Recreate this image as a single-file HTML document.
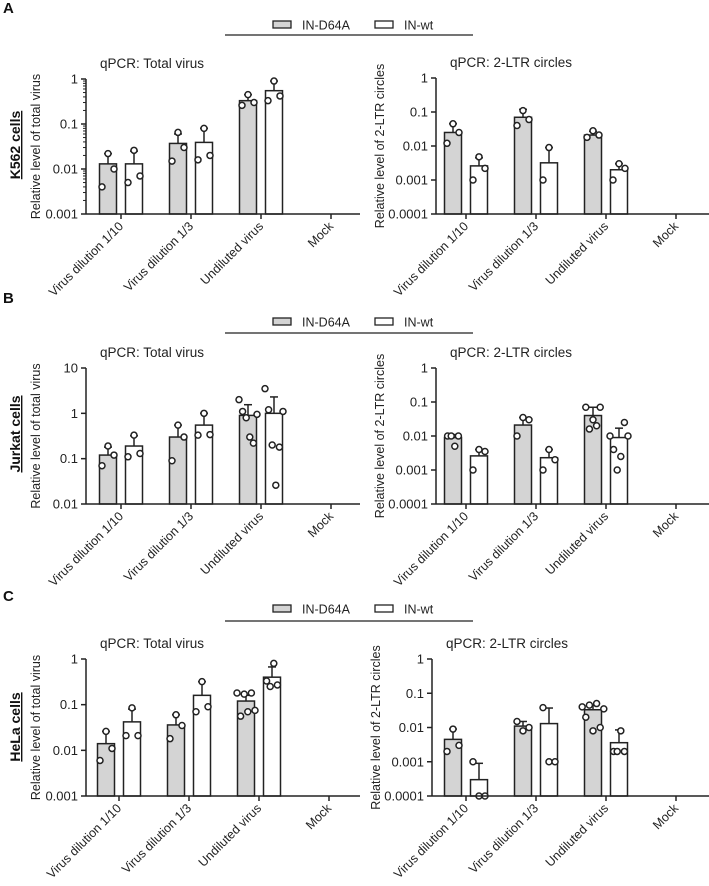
<!DOCTYPE html>
<html><head><meta charset="utf-8">
<style>
html,body{margin:0;padding:0;background:#fff;}
svg{display:block;font-family:"Liberation Sans",Arial,sans-serif;}
</style></head>
<body>
<svg id="fig" width="709" height="886" viewBox="0 0 709 886"></svg>
<script>
// ---- data ----
const categories = ["Virus dilution 1/10","Virus dilution 1/3","Undiluted virus","Mock"];
const seriesNames = ["IN-D64A","IN-wt"];

const aTotalGrayMean = [0.013,0.037,0.33];
const aTotalGrayErr  = [0.022,0.06,0.45];
const aTotalGrayPts  = [[0.022,0.004,0.01],[0.065,0.015,0.03],[0.45,0.26,0.3]];
const aTotalWhiteMean = [0.013,0.039,0.55];
const aTotalWhiteErr  = [0.025,0.08,0.9];
const aTotalWhitePts  = [[0.026,0.005,0.007],[0.08,0.016,0.02],[0.9,0.33,0.42]];

const aLtrGrayMean = [0.025,0.07,0.021];
const aLtrGrayErr  = [0.045,0.12,0.027];
const aLtrGrayPts  = [[0.045,0.012,0.025],[0.11,0.04,0.06],[0.028,0.018,0.021]];
const aLtrWhiteMean = [0.0026,0.0032,0.002];
const aLtrWhiteErr  = [0.0045,0.009,0.003];
const aLtrWhitePts  = [[0.0048,0.001,0.0022],[0.009,0.001],[0.003,0.001,0.0022]];

const bTotalGrayMean = [0.12,0.3,0.9];
const bTotalGrayErr  = [0.18,0.55,1.55];
const bTotalGrayPts  = [[0.19,0.07,0.12],[0.55,0.09,0.3],[2.0,1.1,0.8,0.3,0.22,0.95]];
const bTotalWhiteMean = [0.19,0.55,1.0];
const bTotalWhiteErr  = [0.32,1.0,2.3];
const bTotalWhitePts  = [[0.33,0.11,0.13],[1.0,0.33,0.34],[3.5,1.2,0.2,0.026,0.18,1.1]];

const bLtrGrayMean = [0.009,0.021,0.04];
const bLtrGrayErr  = [0.011,0.035,0.07];
const bLtrGrayPts  = [[0.01,0.01,0.005,0.01],[0.035,0.01,0.03],[0.07,0.016,0.03,0.02,0.07]];
const bLtrWhiteMean = [0.0026,0.0023,0.009];
const bLtrWhiteErr  = [0.004,0.004,0.017];
const bLtrWhitePts  = [[0.004,0.001,0.0035],[0.004,0.001,0.002],[0.01,0.004,0.001,0.0025,0.025,0.01]];

const cTotalGrayMean = [0.014,0.036,0.12];
const cTotalGrayErr  = [0.026,0.06,0.16];
const cTotalGrayPts  = [[0.026,0.006,0.011],[0.06,0.018,0.035],[0.18,0.056,0.17,0.07,0.18,0.075]];
const cTotalWhiteMean = [0.042,0.16,0.4];
const cTotalWhiteErr  = [0.08,0.32,0.67];
const cTotalWhitePts  = [[0.085,0.021,0.021],[0.32,0.07,0.09],[0.33,0.25,0.8,0.27]];

const cLtrGrayMean = [0.0045,0.011,0.033];
const cLtrGrayErr  = [0.009,0.015,0.045];
const cLtrGrayPts  = [[0.009,0.002,0.003],[0.008,0.015,0.01],[0.04,0.02,0.045,0.008,0.05,0.01,0.035]];
const cLtrWhiteMean = [0.0003,0.013,0.0036];
const cLtrWhiteErr  = [0.0009,0.037,0.0085];
const cLtrWhitePts  = [[0.0001,0.001,0.0001],[0.001,0.038,0.001],[0.002,0.002,0.008,0.002]];

const totalTicks3 = ["0.001","0.01","0.1","1"];
const totalTicksB = ["0.01","0.1","1","10"];
const ltrTicks = ["0.0001","0.001","0.01","0.1","1"];

// ---- drawing ----
const NS = "http://www.w3.org/2000/svg";
const svg = document.getElementById("fig");
function mk(tag, attrs, parent){
  const e = document.createElementNS(NS, tag);
  for (const k in attrs) e.setAttribute(k, attrs[k]);
  (parent||svg).appendChild(e);
  return e;
}
function jitter(j, n){
  if (n <= 3) return j === 0 ? 0 : (j % 2 ? -1 : 1) * 6;
  return (j - (n-1)/2) * 3.6;
}

function panel(cfg){
  const g = mk("g", {});
  
  
  const lmin = Math.log10(cfg.min), lmax = Math.log10(cfg.max);
  const yScale = v => cfg.bottom - (Math.log10(v) - lmin) / (lmax - lmin) * (cfg.bottom - cfg.top);
  const xCat = i => cfg.c0 + i * cfg.step;
  const series = [
    {mean: cfg.gm, err: cfg.ge, pts: cfg.gp, off: -13, fill: "#d4d4d4", nm: "d64a"},
    {mean: cfg.wm, err: cfg.we, pts: cfg.wp, off: 13, fill: "#ffffff", nm: "wt"}
  ];
  series.forEach(s => {
    s.mean.forEach((m, i) => {
      const cx = xCat(i) + s.off;
      const y = yScale(m);
      const ye = yScale(s.err[i]);
      const ln = mk("line", {x1: cx, x2: cx, y1: y, y2: ye, stroke: "#222", "stroke-width": 1.5}, g);
      
      
      mk("line", {x1: cx-4, x2: cx+4, y1: ye, y2: ye, stroke: "#222", "stroke-width": 1.5}, g);
      const r = mk("rect", {x: cx-8.5, y: y, width: 17, height: cfg.bottom - y, fill: s.fill, stroke: "#222", "stroke-width": 1.5}, g);
      
      
      const n = s.pts[i].length;
      s.pts[i].forEach((p, j) => {
        const dx = jitter(j, n);
        const c = mk("circle", {cx: cx + dx, cy: yScale(p), r: 3, fill: "#fff", stroke: "#222", "stroke-width": 1.5}, g);
        
        
      });
    });
  });
  const ya = mk("line", {x1: cfg.ax, x2: cfg.ax, y1: cfg.top, y2: cfg.bottom, stroke: "#222", "stroke-width": 1.5}, g);
  
  
  const xa = mk("line", {x1: cfg.ax, x2: cfg.xEnd, y1: cfg.bottom, y2: cfg.bottom, stroke: "#222", "stroke-width": 1.5}, g);
  
  
  cfg.ticks.forEach((t, i) => {
    const v = parseFloat(t);
    const y = yScale(v);
    mk("line", {x1: cfg.ax-5, x2: cfg.ax, y1: y, y2: y, stroke: "#222", "stroke-width": 1.5}, g);
    const tx = mk("text", {x: cfg.ax-8, y: y+4.5, "text-anchor": "end", "font-size": 13, fill: "#222"}, g);
    tx.textContent = t;
    
    
    if (cfg.minor && i < cfg.ticks.length-1) {
      for (let k = 2; k <= 9; k++) {
        const ym = yScale(v*k);
        mk("line", {x1: cfg.ax-3, x2: cfg.ax, y1: ym, y2: ym, stroke: "#222", "stroke-width": 1}, g);
      }
    }
  });
  categories.forEach((c, i) => {
    const x = xCat(i);
    mk("line", {x1: x, x2: x, y1: cfg.bottom, y2: cfg.bottom+5, stroke: "#222", "stroke-width": 1.5}, g);
    const tx = mk("text", {x: x+3, y: cfg.bottom+13, "text-anchor": "end", "font-size": 12.5, fill: "#222",
      transform: `rotate(-45 ${x+3} ${cfg.bottom+13})`}, g);
    tx.textContent = c;
    
    
  });
  const ti = mk("text", {x: cfg.ax+14, y: cfg.top-11, "font-size": 13.5, fill: "#222"}, g);
  ti.textContent = cfg.title;
  
  
  const yc = (cfg.top + cfg.bottom)/2;
  const yt = mk("text", {x: cfg.ytx, y: yc, "text-anchor": "middle", "font-size": 12.5, fill: "#222",
    transform: `rotate(-90 ${cfg.ytx} ${yc})`}, g);
  yt.textContent = cfg.ytitle;
  
  
}

function legend(y, lineY, letter, letterY, cell, cellY){
  const g = mk("g", {});
  
  
  const r1 = mk("rect", {x: 273, y: y-4, width: 18, height: 7, fill: "#d4d4d4", stroke: "#222", "stroke-width": 1.3}, g);
  
  
  const t1 = mk("text", {x: 302, y: y+4.5, "font-size": 12.5, fill: "#222"}, g);
  t1.textContent = seriesNames[0];
  
  
  const r2 = mk("rect", {x: 375, y: y-4, width: 18, height: 7, fill: "#fff", stroke: "#222", "stroke-width": 1.3}, g);
  
  
  const t2 = mk("text", {x: 404, y: y+4.5, "font-size": 12.5, fill: "#222"}, g);
  t2.textContent = seriesNames[1];
  
  
  const l = mk("line", {x1: 225, x2: 473, y1: lineY, y2: lineY, stroke: "#222", "stroke-width": 1.3}, g);
  
  
  const L = mk("text", {x: 3, y: letterY, "font-size": 15, "font-weight": "bold", fill: "#111"});
  L.textContent = letter;
  
  
  const C = mk("text", {x: 20, y: cellY, "text-anchor": "middle", "font-size": 14, "font-weight": "bold", fill: "#111",
    "text-decoration": "underline", transform: `rotate(-90 20 ${cellY})`});
  C.textContent = cell;
  
  
}

legend(25, 35, "A", 13, "K562 cells", 145);
legend(322, 333, "B", 303, "Jurkat cells", 434);
legend(609, 621, "C", 601, "HeLa cells", 727);

panel({name:"panel-a-total", ax:86, top:79, bottom:214, min:0.001, max:1, c0:121, step:70, xEnd:360,
  gm:aTotalGrayMean, ge:aTotalGrayErr, gp:aTotalGrayPts, wm:aTotalWhiteMean, we:aTotalWhiteErr, wp:aTotalWhitePts,
  ticks: totalTicks3, minor:true, title:"qPCR: Total virus", ytitle:"Relative level of total virus", ytx:40});
panel({name:"panel-a-2ltr", ax:436, top:78, bottom:214, min:0.0001, max:1, c0:466, step:70, xEnd:709,
  gm:aLtrGrayMean, ge:aLtrGrayErr, gp:aLtrGrayPts, wm:aLtrWhiteMean, we:aLtrWhiteErr, wp:aLtrWhitePts,
  ticks: ltrTicks, minor:false, title:"qPCR: 2-LTR circles", ytitle:"Relative level of 2-LTR circles", ytx:384});
panel({name:"panel-b-total", ax:86, top:368, bottom:504, min:0.01, max:10, c0:121, step:70, xEnd:360,
  gm:bTotalGrayMean, ge:bTotalGrayErr, gp:bTotalGrayPts, wm:bTotalWhiteMean, we:bTotalWhiteErr, wp:bTotalWhitePts,
  ticks: totalTicksB, minor:false, title:"qPCR: Total virus", ytitle:"Relative level of total virus", ytx:40});
panel({name:"panel-b-2ltr", ax:436, top:368, bottom:504, min:0.0001, max:1, c0:466, step:70, xEnd:709,
  gm:bLtrGrayMean, ge:bLtrGrayErr, gp:bLtrGrayPts, wm:bLtrWhiteMean, we:bLtrWhiteErr, wp:bLtrWhitePts,
  ticks: ltrTicks, minor:false, title:"qPCR: 2-LTR circles", ytitle:"Relative level of 2-LTR circles", ytx:384});
panel({name:"panel-c-total", ax:86, top:659, bottom:796, min:0.001, max:1, c0:119, step:70, xEnd:360,
  gm:cTotalGrayMean, ge:cTotalGrayErr, gp:cTotalGrayPts, wm:cTotalWhiteMean, we:cTotalWhiteErr, wp:cTotalWhitePts,
  ticks: totalTicks3, minor:false, title:"qPCR: Total virus", ytitle:"Relative level of total virus", ytx:40});
panel({name:"panel-c-2ltr", ax:432, top:659, bottom:796, min:0.0001, max:1, c0:466, step:70, xEnd:709,
  gm:cLtrGrayMean, ge:cLtrGrayErr, gp:cLtrGrayPts, wm:cLtrWhiteMean, we:cLtrWhiteErr, wp:cLtrWhitePts,
  ticks: ltrTicks, minor:false, title:"qPCR: 2-LTR circles", ytitle:"Relative level of 2-LTR circles", ytx:380});
</script>
</body></html>
